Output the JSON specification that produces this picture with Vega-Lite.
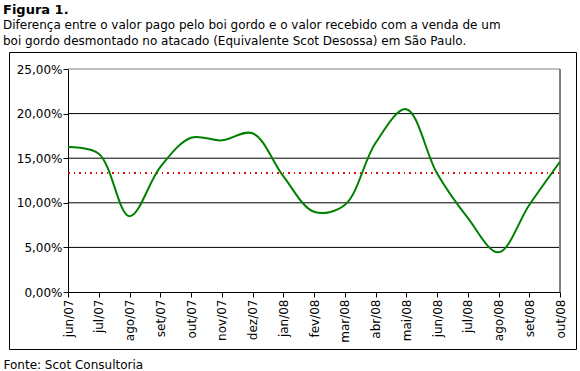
{
  "$schema": "https://vega.github.io/schema/vega-lite/v6.json",
  "width": 567,
  "height": 297,
  "autosize": {"type": "none"},
  "padding": {"left": 9, "top": 52, "right": 4, "bottom": 22},
  "background": "white",
  "config": {
    "font": "DejaVu Sans",
    "view": {"stroke": "black", "strokeWidth": 1},
    "axis": {"labelFont": "DejaVu Sans", "labelFontSize": 12, "labelColor": "black", "tickColor": "black", "domainColor": "black"}
  },
  "title": {
    "text": "Figura 1.",
    "subtitle": ["Diferença entre o valor pago pelo boi gordo e o valor recebido com a venda de um", "boi gordo desmontado no atacado (Equivalente Scot Desossa) em São Paulo."],
    "anchor": "start",
    "frame": "group",
    "dx": -6,
    "offset": 5,
    "font": "DejaVu Sans",
    "fontSize": 13,
    "fontWeight": "bold",
    "color": "black",
    "subtitleFont": "DejaVu Sans",
    "subtitleFontSize": 12,
    "subtitleColor": "black",
    "subtitlePadding": 3,
    "subtitleLineHeight": 16
  },
  "datasets": {
    "serie": [
      {"mes": "jun/07", "v": 0.1625},
      {"mes": "jul/07", "v": 0.155},
      {"mes": "ago/07", "v": 0.085},
      {"mes": "set/07", "v": 0.140},
      {"mes": "out/07", "v": 0.173},
      {"mes": "nov/07", "v": 0.170},
      {"mes": "dez/07", "v": 0.178},
      {"mes": "jan/08", "v": 0.130},
      {"mes": "fev/08", "v": 0.090},
      {"mes": "mar/08", "v": 0.0975},
      {"mes": "abr/08", "v": 0.167},
      {"mes": "mai/08", "v": 0.205},
      {"mes": "jun/08", "v": 0.133},
      {"mes": "jul/08", "v": 0.083},
      {"mes": "ago/08", "v": 0.0445},
      {"mes": "set/08", "v": 0.0975},
      {"mes": "out/08", "v": 0.146}
    ],
    "grade": [
      {"g": 0.05, "c": "black"},
      {"g": 0.10, "c": "black"},
      {"g": 0.15, "c": "black"},
      {"g": 0.20, "c": "black"},
      {"g": 0.25, "c": "grey"}
    ]
  },
  "data": {"name": "serie"},
  "encoding": {
    "x": {
      "field": "mes", "type": "ordinal", "sort": null,
      "scale": {"type": "point", "range": [59, 551], "padding": 0,
        "domain": ["jun/07", "jul/07", "ago/07", "set/07", "out/07", "nov/07", "dez/07", "jan/08", "fev/08", "mar/08", "abr/08", "mai/08", "jun/08", "jul/08", "ago/08", "set/08", "out/08"]},
      "axis": {
        "orient": "bottom", "offset": -57, "labelAngle": -90, "labelAlign": "right", "labelBaseline": "middle",
        "tickSize": 5, "labelPadding": 2, "grid": false,
        "title": "Fonte: Scot Consultoria", "titleX": -6, "titleY": 76, "titleAlign": "left", "titleAnchor": "start",
        "titleBaseline": "alphabetic", "titleFont": "DejaVu Sans", "titleFontSize": 12, "titleFontWeight": "normal", "titleColor": "black"
      }
    },
    "y": {
      "field": "v", "type": "quantitative",
      "scale": {"domain": [0, 0.25], "range": [240, 17], "nice": false, "zero": true},
      "axis": {
        "offset": -59, "values": [0, 0.05, 0.1, 0.15, 0.2, 0.25], "title": null,
        "labelExpr": "replace(format(datum.value, '.2%'), '.', ',')",
        "tickSize": 5, "labelPadding": 1,
        "grid": false
      }
    }
  },
  "layer": [
    {
      "data": {"name": "grade"},
      "mark": {"type": "rule", "strokeWidth": 1},
      "encoding": {
        "x": {"datum": "jun/07"}, "x2": {"datum": "out/08"},
        "y": {"field": "g", "type": "quantitative"},
        "color": {"field": "c", "type": "nominal", "scale": {"domain": ["black", "grey"], "range": ["black", "#808080"]}, "legend": null}
      }
    },
    {
      "mark": {"type": "rule", "stroke": "#808080", "strokeWidth": 1},
      "encoding": {"x": {"datum": "out/08"}, "y": {"datum": 0}, "y2": {"datum": 0.25}}
    },
    {
      "mark": {"type": "rule", "stroke": "#e00000", "strokeWidth": 1, "strokeDash": [2, 4, 1, 4]},
      "encoding": {"x": {"datum": "jun/07"}, "x2": {"datum": "out/08"}, "y": {"datum": 0.133}}
    },
    {
      "mark": {"type": "line", "color": "#008000", "strokeWidth": 2, "interpolate": "catmull-rom"}
    }
  ]
}
